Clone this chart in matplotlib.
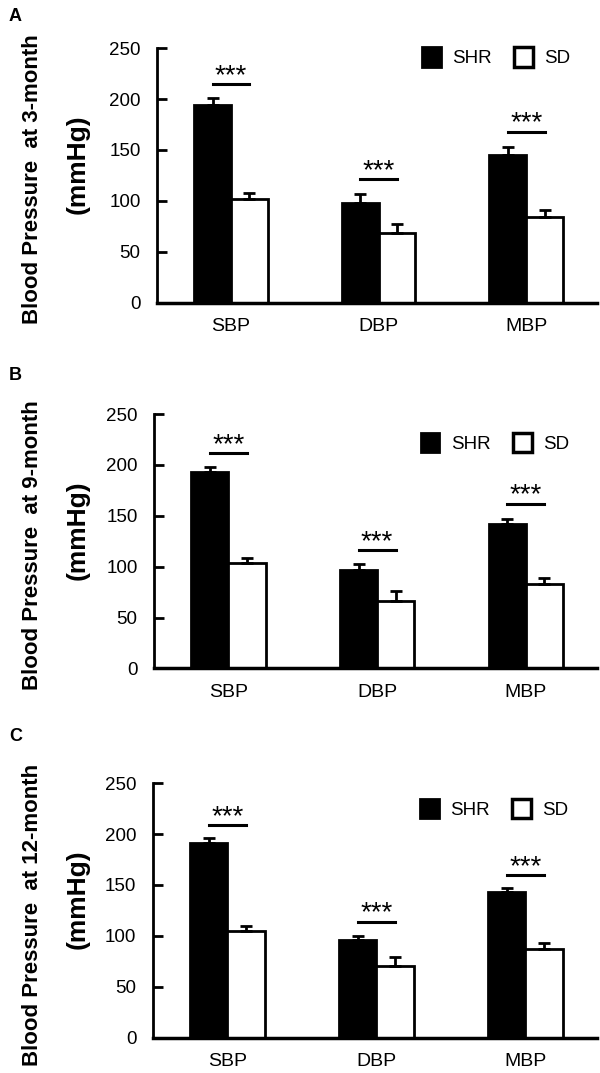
import numpy as np
import matplotlib.pyplot as plt
from matplotlib.patches import Patch

plt.rcParams['font.family'] = ['Liberation Sans', 'DejaVu Sans']

# data
categories = ['SBP', 'DBP', 'MBP']
panel_letters = ['A', 'B', 'C']
ages = ['3-month', '9-month', '12-month']
shr_mean = [[194, 98, 145], [193, 97, 142], [191, 96, 143]]
shr_err = [[7, 9, 8], [5, 6, 5], [5, 4, 4]]
sd_mean = [[102, 68, 84], [104, 66, 83], [105, 70, 87]]
sd_err = [[6, 9, 7], [5, 10, 6], [5, 9, 6]]
sig_y = [[215, 121, 168], [212, 116, 162], [209, 114, 160]]
legend_y = [241, 222, 225]

fig = plt.figure(figsize=(6, 10.73), dpi=100)

# axes boxes in figure fractions (left, bottom, width, height)
boxes = [(0.262, 0.718, 0.733, 0.239),
         (0.257, 0.377, 0.738, 0.239),
         (0.255, 0.033, 0.740, 0.239)]
letter_y = [0.985, 0.650, 0.314]

x = np.arange(len(categories))
w = 0.25
ekw = dict(ecolor='black', elinewidth=2, capsize=4, capthick=2)

for i in range(3):
    ax = fig.add_axes(boxes[i])
    ax.bar(x - w / 2, shr_mean[i], w, color='black', edgecolor='black', linewidth=2,
           yerr=[np.zeros(3), shr_err[i]], error_kw=ekw)
    ax.bar(x + w / 2, sd_mean[i], w, color='white', edgecolor='black', linewidth=2,
           yerr=[np.zeros(3), sd_err[i]], error_kw=ekw)

    # significance markers
    for j in range(3):
        ax.plot([x[j] - w / 2, x[j] + w / 2], [sig_y[i][j], sig_y[i][j]], color='black', lw=2.2)
        ax.text(x[j], sig_y[i][j] + 1, '***', ha='center', va='baseline', fontsize=20)

    ax.set_xlim(-0.50, 2.48)
    ax.set_ylim(0, 252)
    ax.set_yticks([0, 50, 100, 150, 200, 250])
    ax.set_xticks(x)
    ax.set_xticklabels(categories, fontsize=14)
    ax.tick_params(axis='y', direction='in', length=7, width=2, labelsize=13.5, pad=12)
    ax.tick_params(axis='x', length=0, pad=11)
    for s in ['top', 'right']:
        ax.spines[s].set_visible(False)
    ax.spines['left'].set_linewidth(2)
    ax.spines['bottom'].set_linewidth(2.5)
    ax.spines['left'].set_bounds(0, 250)

    handles = [Patch(facecolor='black', edgecolor='black', linewidth=2),
               Patch(facecolor='white', edgecolor='black', linewidth=2.5)]
    ax.legend(handles, ['SHR', 'SD'], ncol=2, frameon=False, fontsize=13.5,
              loc='center left', bbox_to_anchor=(0.585, legend_y[i] / 252),
              handlelength=1.0, handleheight=1.2, handletextpad=0.6, columnspacing=1.2,
              borderaxespad=0)

    # y label as two bold lines
    fig.text(0.055, boxes[i][1] + boxes[i][3] * 0.48, 'Blood Pressure  at ' + ages[i],
             rotation=90, ha='center', va='center', fontsize=16, fontweight='bold')
    fig.text(0.13, boxes[i][1] + boxes[i][3] * 0.54, '(mmHg)', rotation=90, ha='center', va='center',
             fontsize=19, fontweight='bold')
    fig.text(0.015, letter_y[i], panel_letters[i], ha='left', va='center', fontsize=13, fontweight='bold')

fig.savefig('out.png', dpi=100)
